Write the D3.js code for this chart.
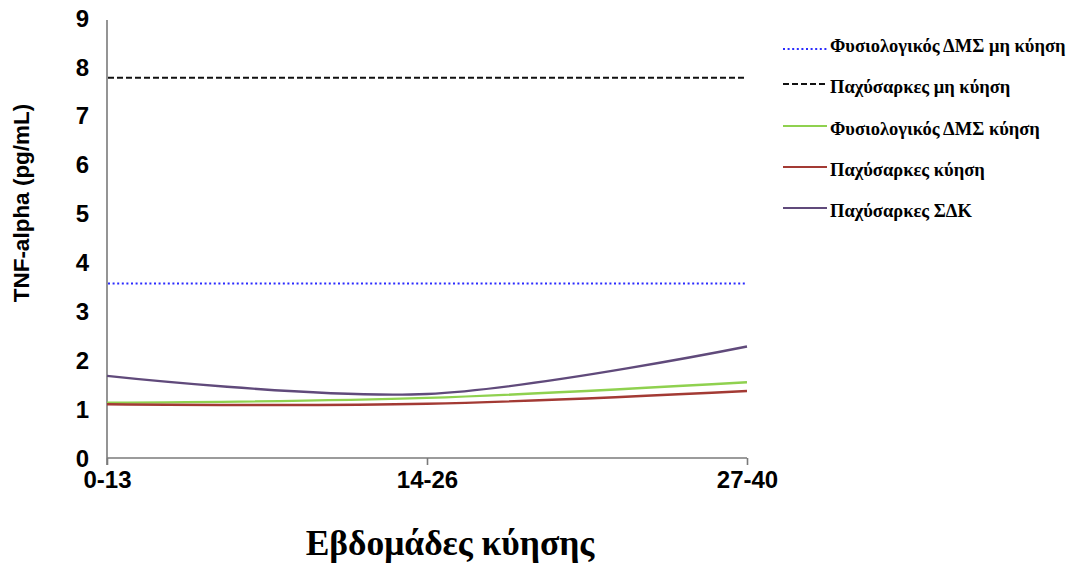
<!DOCTYPE html>
<html>
<head>
<meta charset="utf-8">
<script src="https://cdn.jsdelivr.net/npm/d3@7"></script>
<style>
  html, body { margin: 0; padding: 0; background: #fff; }
  svg { display: block; }
</style>
</head>
<body>
<svg id="chart" width="1074" height="563"></svg>
<script>
// ---- Data ----
const categories = ["0-13", "14-26", "27-40"];
const yTicks = [0, 1, 2, 3, 4, 5, 6, 7, 8, 9];
const normalNonPregnant = 3.57;   // Φυσιολογικός ΔΜΣ μη κύηση (reference level)
const obeseNonPregnant = 7.78;    // Παχύσαρκες μη κύηση (reference level)
const normalPregnant = [1.13, 1.23, 1.55];   // Φυσιολογικός ΔΜΣ κύηση
const obesePregnant = [1.10, 1.11, 1.37];    // Παχύσαρκες κύηση
const obeseGDM = [1.68, 1.31, 2.28];         // Παχύσαρκες ΣΔΚ
const legendLabels = [
  "Φυσιολογικός ΔΜΣ μη κύηση",
  "Παχύσαρκες μη κύηση",
  "Φυσιολογικός ΔΜΣ κύηση",
  "Παχύσαρκες κύηση",
  "Παχύσαρκες ΣΔΚ"
];
const yTitle = "TNF-alpha (pg/mL)";
const xTitle = "Εβδομάδες κύησης";

// ---- Layout ----
const svg = d3.select("#chart");
const x0 = 107, x1 = 747, yBottom = 458, yTop = 18;

const x = d3.scalePoint().domain(categories).range([x0, x1]);
const y = d3.scaleLinear().domain([0, 9]).range([yBottom, yTop]);

const axisColor = "#7a7a7a";

// Y axis line
svg.append("line")
  .attr("x1", x0).attr("x2", x0)
  .attr("y1", 20).attr("y2", yBottom + 7)
  .attr("stroke", axisColor).attr("stroke-width", 1.6);

// X axis
const xAxis = svg.append("g").attr("transform", `translate(0,${yBottom})`)
  .call(d3.axisBottom(x).tickSize(7).tickPadding(6));
xAxis.select(".domain").attr("stroke", axisColor).attr("stroke-width", 1.6)
  .attr("d", `M${x0},0H${x1}`);
xAxis.selectAll(".tick line").attr("stroke", axisColor).attr("stroke-width", 1.6);
xAxis.selectAll(".tick text")
  .attr("fill", "#000")
  .style("font-family", "'Liberation Sans', Arial, sans-serif")
  .style("font-weight", "bold")
  .style("font-size", "24px");

// Y tick labels (no tick marks)
svg.append("g").selectAll("text").data(yTicks).join("text")
  .attr("x", 89).attr("y", d => y(d))
  .attr("dy", "0.36em")
  .attr("text-anchor", "end")
  .style("font-family", "'Liberation Sans', Arial, sans-serif")
  .style("font-weight", "bold")
  .style("font-size", "24px")
  .text(d => d);

// Axis titles
svg.append("text")
  .attr("transform", `translate(29,${(yTop + yBottom) / 2 - 35}) rotate(-90)`)
  .attr("text-anchor", "middle")
  .style("font-family", "'Liberation Sans', Arial, sans-serif")
  .style("font-weight", "bold")
  .style("font-size", "22.5px")
  .text(yTitle);

svg.append("text")
  .attr("x", 450).attr("y", 555)
  .attr("text-anchor", "middle")
  .style("font-family", "'Liberation Serif', 'Times New Roman', serif")
  .style("font-weight", "bold")
  .style("font-size", "35.5px")
  .text(xTitle);

// Reference lines
svg.append("line")
  .attr("x1", x0 + 1).attr("x2", x1)
  .attr("y1", y(normalNonPregnant)).attr("y2", y(normalNonPregnant))
  .attr("stroke", "#2b2bff").attr("stroke-width", 2).attr("stroke-dasharray", "2,2.6");
svg.append("line")
  .attr("x1", x0 + 1).attr("x2", x1)
  .attr("y1", y(obeseNonPregnant)).attr("y2", y(obeseNonPregnant))
  .attr("stroke", "#111").attr("stroke-width", 2).attr("stroke-dasharray", "6,3");

// Smoothed series
const line = d3.line()
  .x((d, i) => x(categories[i]))
  .y(d => y(d))
  .curve(d3.curveCardinal.tension(0));

const series = [
  { values: normalPregnant, color: "#8fd14f" },
  { values: obesePregnant, color: "#a33a34" },
  { values: obeseGDM, color: "#604a7b" }
];
svg.append("g").selectAll("path").data(series).join("path")
  .attr("d", d => line(d.values))
  .attr("fill", "none")
  .attr("stroke", d => d.color)
  .attr("stroke-width", 2.4);

// Legend
const legendItems = [
  { label: legendLabels[0], color: "#2b2bff", dash: "2,2.6" },
  { label: legendLabels[1], color: "#111", dash: "6,3" },
  { label: legendLabels[2], color: "#8fd14f", dash: null },
  { label: legendLabels[3], color: "#a33a34", dash: null },
  { label: legendLabels[4], color: "#604a7b", dash: null }
];
const legendY = [46, 87, 129, 170, 211];
const lg = svg.append("g").selectAll("g").data(legendItems).join("g")
  .attr("transform", (d, i) => `translate(0,${legendY[i]})`);
lg.append("line")
  .attr("x1", 783).attr("x2", 827)
  .attr("y1", (d, i) => i === 0 ? 3 : -3).attr("y2", (d, i) => i === 0 ? 3 : -3)
  .attr("stroke", d => d.color)
  .attr("stroke-width", 2)
  .attr("stroke-dasharray", d => d.dash);
lg.append("text")
  .attr("x", 830).attr("y", 0).attr("dy", "0.35em")
  .style("font-family", "'Liberation Serif', 'Times New Roman', serif")
  .style("font-weight", "bold")
  .style("font-size", "18.5px")
  .text(d => d.label);
</script>
</body>
</html>
